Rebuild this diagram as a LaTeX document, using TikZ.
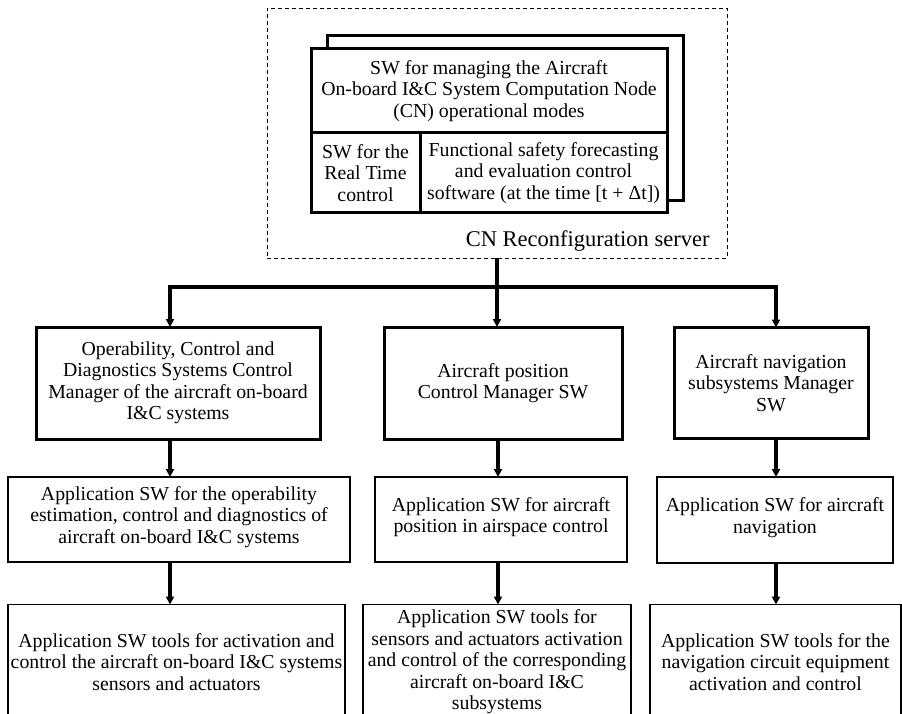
\documentclass[tikz,border=0pt]{standalone}
\usepackage{fontspec}
\setmainfont{Liberation Serif}
\usetikzlibrary{arrows.meta}
\usetikzlibrary{calc}

\begin{document}
\begin{tikzpicture}[x=1pt,y=1pt,yscale=-1,xscale=1,
  font=\fontsize{19.8}{21.5}\selectfont,
  heavybox/.style={draw, line width=3pt, inner sep=0pt, outer sep=0pt, align=center},
  litebox/.style={draw, line width=1.3pt, inner sep=0pt, outer sep=0pt, align=center},
  flowarrow/.style={draw, line width=3.4pt, -{Triangle[length=8pt,width=8pt]}}]
%set diagram frame: 902 x 714, bottom row runs off the page
\useasboundingbox (0,0) rectangle (902,714);
\clip (0,0) rectangle (902,714);

%Shape: Dashed frame of the server
\node[draw, dashed, dash pattern=on 4pt off 3pt, line width=0.8pt, outer sep=0pt, minimum width=460pt, minimum height=250pt] (server) at (497,133) {};
% Text Node
\node[anchor=base east, font=\fontsize{22.5}{26}\selectfont] (srvname) at ($(server.south east)+(-14,-11)$) {CN Reconfiguration server};

%Shape: Stacked block inside the server
\node[heavybox, minimum width=356pt, minimum height=84pt] (cnmodes) at (489,91) {SW for managing the Aircraft\\On-board I\&C System Computation Node\\(CN) operational modes};
\node[heavybox, anchor=north west, minimum width=109pt, minimum height=80pt] (rtctl) at (cnmodes.south west) {SW for the\\Real Time\\control};
\node[heavybox, anchor=north west, minimum width=247pt, minimum height=80pt] (fsfore) at (rtctl.north east) {Functional safety forecasting\\and evaluation control\\software (at the time [t + Δt])};
\draw[line width=3pt] ($(cnmodes.north west)+(16,0)$) -- ++(0,-13) -| ($(fsfore.south east)+(16,-12)$) -- ++(-16,0);

%Shape: Managers
\node[heavybox, minimum width=284pt, minimum height=112pt] (opmgr) at (178,383) {Operability, Control and\\Diagnostics Systems Control\\Manager of the aircraft on-board\\I\&C systems};
\node[heavybox, minimum width=238pt, minimum height=112pt] (posmgr) at (503,383) {Aircraft position\\Control Manager SW};
\node[heavybox, minimum width=194pt, minimum height=111pt] (navmgr) at (771,383) {Aircraft navigation\\subsystems Manager\\SW};

%Shape: Application SW
\node[litebox, minimum width=342pt, minimum height=85pt, text depth=9pt] (opapp) at (179,519.5) {Application SW for the operability\\estimation, control and diagnostics of\\aircraft on-board I\&C systems};
\node[litebox, minimum width=252pt, minimum height=85pt, text depth=9pt] (posapp) at (501,519.5) {Application SW for aircraft\\position in airspace control};
\node[litebox, minimum width=236pt, minimum height=86pt, text depth=9pt] (navapp) at (775,520) {Application SW for aircraft\\navigation};

%Shape: Application SW tools
\node[litebox, minimum width=337pt, minimum height=115pt] (optools) at (176.5,662) {Application SW tools for activation and\\control the aircraft on-board I\&C systems\\sensors and actuators};
\node[litebox, minimum width=268pt, minimum height=115pt] (postools) at (497,662) {Application SW tools for\\sensors and actuators activation\\and control of the corresponding\\aircraft on-board I\&C\\subsystems};
\node[litebox, minimum width=251pt, minimum height=115pt] (navtools) at (775.5,662) {Application SW tools for the\\navigation circuit equipment\\activation and control};

%Straight Lines
\coordinate (colL) at (170,0);
\coordinate (colM) at (498,0);
\coordinate (colR) at (776,0);
\coordinate (bus) at ($(server.south)+(0,29)$);
\draw[flowarrow] (server.south) -- (posmgr.north -| server.south);
\draw[flowarrow] (bus) -| (opmgr.north -| colL);
\draw[flowarrow] (bus) -| (navmgr.north -| colR);

\draw[flowarrow] (opmgr.south -| colL) -- (opapp.north -| colL);
\draw[flowarrow] (posmgr.south -| colM) -- (posapp.north -| colM);
\draw[flowarrow] (navmgr.south -| colR) -- (navapp.north -| colR);

\draw[flowarrow] (opapp.south -| colL) -- (optools.north -| colL);
\draw[flowarrow] (posapp.south -| colM) -- (postools.north -| colM);
\draw[flowarrow] (navapp.south -| colR) -- (navtools.north -| colR);

\end{tikzpicture}
\end{document}
